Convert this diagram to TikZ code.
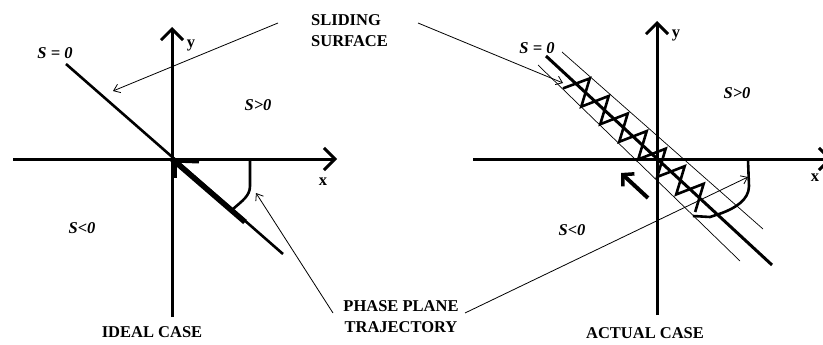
\documentclass[tikz,border=0pt]{standalone}
\usepackage{fontspec}
\setmainfont{Liberation Serif}
\usetikzlibrary{arrows.meta}
\tikzset{
  axisline/.style={line width=3pt,-{Straight Barb[length=11pt,width=22pt,line width=3pt]}},
  surf/.style={line width=2.6pt},
  band/.style={line width=0.7pt},
  thinarrow/.style={line width=0.8pt,-{Straight Barb[length=6pt,width=9pt,line width=0.8pt]}},
  traj/.style={line width=2.6pt,line join=miter},
  lbl/.style={font=\fontsize{16.5}{20}\selectfont\bfseries,inner sep=0pt},
  slbl/.style={font=\fontsize{16.5}{20}\selectfont\bfseries\itshape,inner sep=0pt},
}
\begin{document}
\begin{tikzpicture}[x=1pt,y=-1pt]
\useasboundingbox (0,0) rectangle (823,345);
\clip (0,0) rectangle (823,345);
% ---------- left panel ----------
\coordinate (O1) at (172,159);
\coordinate (xe1) at (337,159); \coordinate (xs1) at (13,159);
\coordinate (ye1) at (172,27);  \coordinate (ys1) at (172,317);
\draw[axisline] (xs1) -- (xe1);
\draw[axisline] (ys1) -- (ye1);
\node[lbl] (ylab1) at (191,45) {y};
\node[lbl] (xlab1) at (323,182) {x};
\coordinate (sa1) at (66,64); \coordinate (sb1) at (283,254);
\draw[surf] (sa1) -- (sb1);
\coordinate (tk1) at (245,222);
\draw[line width=5.5pt] (O1) -- (tk1);
\draw[line width=3pt] (172,161) -- (199,162);
\draw[line width=4pt] (175,160) -- (175,178);
\coordinate (c1a) at (250,161); \coordinate (c1b) at (233,209);
\draw[traj] (c1a) -- (250,186) .. controls (250,196) and (242,201) .. (c1b);
\node[slbl] (s01) at (55,53) {S = 0};
\node[slbl] (sp1) at (258,105) {S>0};
\node[slbl] (sn1) at (82,228) {S<0};
\node[lbl] (ideal) at (152,332) {IDEAL CASE};
% ---------- labels in middle ----------
\node[lbl,anchor=west,align=left,font=\fontsize{16.5}{21}\selectfont\bfseries] (slide) at (311,31) {SLIDING\\SURFACE};
\node[lbl,align=center,font=\fontsize{16.5}{21}\selectfont\bfseries] (phase) at (401,317) {PHASE PLANE\\TRAJECTORY};
\coordinate (sl1) at (278,23); \coordinate (sh1) at (113,91);
\draw[thinarrow] (sl1) -- (sh1);
\coordinate (pl1) at (333,313); \coordinate (ph1) at (256,193);
\draw[thinarrow] (pl1) -- (ph1);
\coordinate (sl2) at (418,23); \coordinate (sh2) at (563,83);
\draw[thinarrow] (sl2) -- (sh2);
\coordinate (pl2) at (465,313); \coordinate (ph2) at (748,177);
\draw[thinarrow] (pl2) -- (ph2);
% ---------- right panel ----------
\coordinate (O2) at (657,159);
\coordinate (xe2) at (832,159); \coordinate (xs2) at (473,159);
\coordinate (ye2) at (657,21);  \coordinate (ys2) at (657,315);
\draw[axisline] (xs2) -- (xe2);
\draw[axisline] (ys2) -- (ye2);
\node[lbl] (ylab2) at (676,35) {y};
\node[lbl] (xlab2) at (815,178) {x};
\coordinate (ua) at (562,52); \coordinate (ub) at (763,229);
\coordinate (la) at (538,65); \coordinate (lb) at (740,261);
\draw[band] (ua) -- (ub);
\draw[band] (la) -- (lb);
\coordinate (sa2) at (546,56); \coordinate (sb2) at (772,265);
\draw[line width=3pt] (sa2) -- (sb2);
% zigzag
\draw[traj] ({657+0.734*(-117)+0.679*(-12)},{159+0.679*(-117)-0.734*(-12)})
  \foreach \k in {1,...,14}{
    -- ({657+0.734*(-117+12.93*\k)+0.679*ifthenelse(mod(\k,2)==1,13.5,-13)},
        {159+0.679*(-117+12.93*\k)-0.734*ifthenelse(mod(\k,2)==1,13.5,-13)})
  };
\coordinate (c2a) at (748,160); \coordinate (c2b) at (693,216);
\draw[traj] (c2a) -- (749,186) .. controls (749,200) and (735,208) .. (722,213) -- (710,217) -- (c2b);
\coordinate (ta) at (648,198); \coordinate (tb) at (621,173);
\draw[line width=4pt,-{Straight Barb[length=8pt,width=17pt,line width=3.5pt]}] (ta) -- (tb);
\node[slbl] (s02) at (537,48) {S = 0};
\node[slbl] (sp2) at (737,93) {S>0};
\node[slbl] (sn2) at (572,230) {S<0};
\node[lbl] (actual) at (645,333) {ACTUAL CASE};
\end{tikzpicture}
\end{document}
